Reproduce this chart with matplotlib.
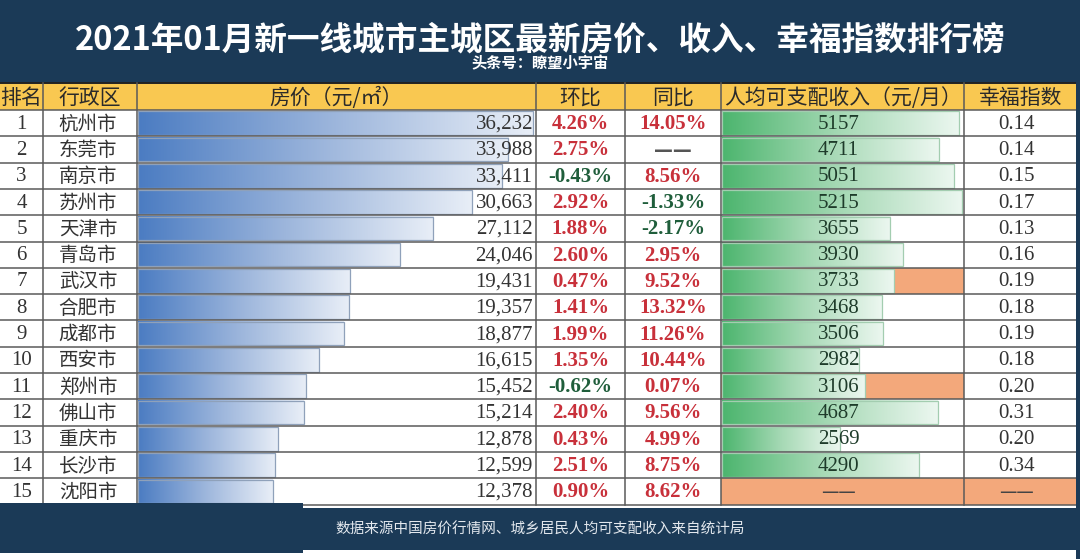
import numpy as np
import matplotlib.pyplot as plt
from matplotlib.patches import Rectangle
from matplotlib.colors import LinearSegmentedColormap

plt.rcParams['font.family'] = ['Liberation Serif', 'Noto Sans CJK SC']

# chart data
title = '2021年01月新一线城市主城区最新房价、收入、幸福指数排行榜'
subtitle = '头条号：瞭望小宇宙'
footer = '数据来源中国房价行情网、城乡居民人均可支配收入来自统计局'
headers = ['排名', '行政区', '房价（元/㎡）', '环比', '同比', '人均可支配收入（元/月）', '幸福指数']

cities = ['杭州市', '东莞市', '南京市', '苏州市', '天津市', '青岛市', '武汉市', '合肥市',
          '成都市', '西安市', '郑州市', '佛山市', '重庆市', '长沙市', '沈阳市']
price = [36232, 33988, 33411, 30663, 27112, 24046, 19431, 19357,
         18877, 16615, 15452, 15214, 12878, 12599, 12378]
mom = [4.26, 2.75, -0.43, 2.92, 1.88, 2.60, 0.47, 1.41,
       1.99, 1.35, -0.62, 2.40, 0.43, 2.51, 0.90]
yoy = [14.05, None, 8.56, -1.33, -2.17, 2.95, 9.52, 13.32,
       11.26, 10.44, 0.07, 9.56, 4.99, 8.75, 8.62]
income = [5157, 4711, 5051, 5215, 3655, 3930, 3733, 3468,
          3506, 2982, 3106, 4687, 2569, 4290, None]
happiness = [0.14, 0.14, 0.15, 0.17, 0.13, 0.16, 0.19, 0.18,
             0.19, 0.18, 0.20, 0.31, 0.20, 0.34, None]
flagged = ['武汉市', '郑州市', '沈阳市']  # orange income cells

navy = '#1b3a57'
yellow = '#f9c851'
orange = '#f3a87b'
grid = '#5a5a5a'
red = '#c8303a'
green = '#1f5e3b'
ink = '#333333'
blue_cm = LinearSegmentedColormap.from_list('b', ['#4b7cc2', '#9db6dc', '#e8eef7'])
green_cm = LinearSegmentedColormap.from_list('g', ['#4cb56e', '#a6d9b5', '#ecf7f0'])

W, H = 1080, 559
fig = plt.figure(figsize=(W / 100, H / 100), dpi=100)
fig.patch.set_facecolor('white')

col_edges = [0, 43, 137, 536, 625, 721, 964, 1077]
head_top, head_bot = 83, 110
row_h = 26.3
n = len(cities)
table_bot = head_bot + n * row_h

base = fig.add_axes([0, 0, 1, 1])
base.set_xlim(0, W)
base.set_ylim(H, 0)
base.axis('off')

base.add_patch(Rectangle((0, 0), W, head_top, color=navy, lw=0))
base.add_patch(Rectangle((0, head_top), col_edges[-1], head_bot - head_top, color=yellow, lw=0))

# orange cells
for i, c in enumerate(cities):
    if c in flagged:
        base.add_patch(Rectangle((col_edges[5], head_bot + i * row_h), col_edges[6] - col_edges[5],
                                 row_h, color=orange, lw=0))
    if happiness[i] is None:
        base.add_patch(Rectangle((col_edges[6], head_bot + i * row_h), col_edges[7] - col_edges[6],
                                 row_h, color=orange, lw=0))


def bar_axes(x0, x1, vmax):
    ax = fig.add_axes([x0 / W, 1 - table_bot / H, (x1 - x0) / W, (table_bot - head_bot) / H])
    ax.patch.set_visible(False)
    ax.axis('off')
    ax.set_xlim(0, vmax)
    ax.set_ylim(n, 0)
    return ax


grad = np.linspace(0, 1, 256).reshape(1, -1)

pax = bar_axes(col_edges[2] + 1, col_edges[3] - 1, max(price) * 1.006)
for i, v in enumerate(price):
    pax.imshow(grad, cmap=blue_cm, extent=(0, v, i + 0.95, i + 0.05), aspect='auto')
    pax.barh(i + 0.5, v, height=0.9, facecolor='none', edgecolor='#8fa1ba', lw=0.9)
pax.set_xlim(0, max(price) * 1.006)
pax.set_ylim(n, 0)

inc_vals = [v for v in income if v is not None]
iax = bar_axes(col_edges[5] + 1, col_edges[6] - 1, max(inc_vals) * 1.004)
for i, v in enumerate(income):
    if v is None:
        continue
    iax.imshow(grad, cmap=green_cm, extent=(0, v, i + 0.95, i + 0.05), aspect='auto')
    iax.barh(i + 0.5, v, height=0.9, facecolor='none', edgecolor='#a3cdb0', lw=0.9)
iax.set_xlim(0, max(inc_vals) * 1.004)
iax.set_ylim(n, 0)

top = fig.add_axes([0, 0, 1, 1])
top.patch.set_visible(False)
top.set_xlim(0, W)
top.set_ylim(H, 0)
top.axis('off')

cjk = ['Noto Sans CJK SC', 'DejaVu Sans']
top.text(540, 40, title, color='white', fontsize=23.5, fontweight='bold', family=cjk,
         ha='center', va='center')
top.text(540, 63, subtitle, color='white', fontsize=11, fontweight='bold', family=cjk,
         ha='center', va='center')

# header
centers = [(a + b) / 2 for a, b in zip(col_edges[:-1], col_edges[1:])]
for x, h in zip(centers, headers):
    top.text(x, (head_top + head_bot) / 2 + 1, h, fontsize=15, color='#2a2a2a', family=cjk,
             ha='center', va='center')

# grid
top.plot([0, col_edges[-1]], [head_top, head_top], color='#222222', lw=1.4)
for k in range(n + 1):
    y = head_bot + k * row_h
    top.plot([0, col_edges[-1]], [y, y], color=grid, lw=1.1)
for x in col_edges[1:]:
    top.plot([x, x], [head_top, table_bot], color=grid, lw=1.1)

dash = '——'


def pct(v):
    if v is None:
        return dash, '#555555'
    return f'{v:.2f}%', red if v >= 0 else green


for i in range(n):
    y = head_bot + (i + 0.5) * row_h + 1
    top.text(centers[0], y, str(i + 1), fontsize=15, color=ink, ha='center', va='center')
    top.text(centers[1] - 2, y, cities[i], fontsize=14, color=ink, family=cjk,
             ha='center', va='center')
    top.text(col_edges[3] - 3, y, f'{price[i]:,}', fontsize=15, color=ink, ha='right', va='center')
    s, c = pct(mom[i])
    top.text(centers[3], y, s, fontsize=15, color=c, fontweight='bold', ha='center', va='center',
             family=cjk if s == dash else None)
    s, c = pct(yoy[i])
    top.text(centers[4], y, s, fontsize=15, color=c, fontweight='bold', ha='center', va='center',
             family=cjk if s == dash else None)
    if income[i] is None:
        top.text(centers[5] - 4, y, dash, fontsize=14, color='#444444', family=cjk,
                 ha='center', va='center')
    else:
        top.text(centers[5] - 4, y, str(income[i]), fontsize=15, color='#1e3b2a',
                 ha='center', va='center')
    if happiness[i] is None:
        top.text(centers[6] - 4, y, dash, fontsize=14, color='#444444', family=cjk,
                 ha='center', va='center')
    else:
        top.text(centers[6] - 4, y, f'{happiness[i]:.2f}', fontsize=15, color=ink,
                 ha='center', va='center')

# footer band and right border
top.add_patch(Rectangle((0, 503), 303, 50, color=navy, lw=0, zorder=5))
top.add_patch(Rectangle((303, 508), 774, 42, color=navy, lw=0, zorder=5))
top.add_patch(Rectangle((1076, 0), 4, H, color=navy, lw=0, zorder=5))
top.text(540, 530, footer, color='#e3e8ee', fontsize=10.5, family=cjk,
         ha='center', va='center', zorder=6)

fig.savefig('out.png', dpi=100)
